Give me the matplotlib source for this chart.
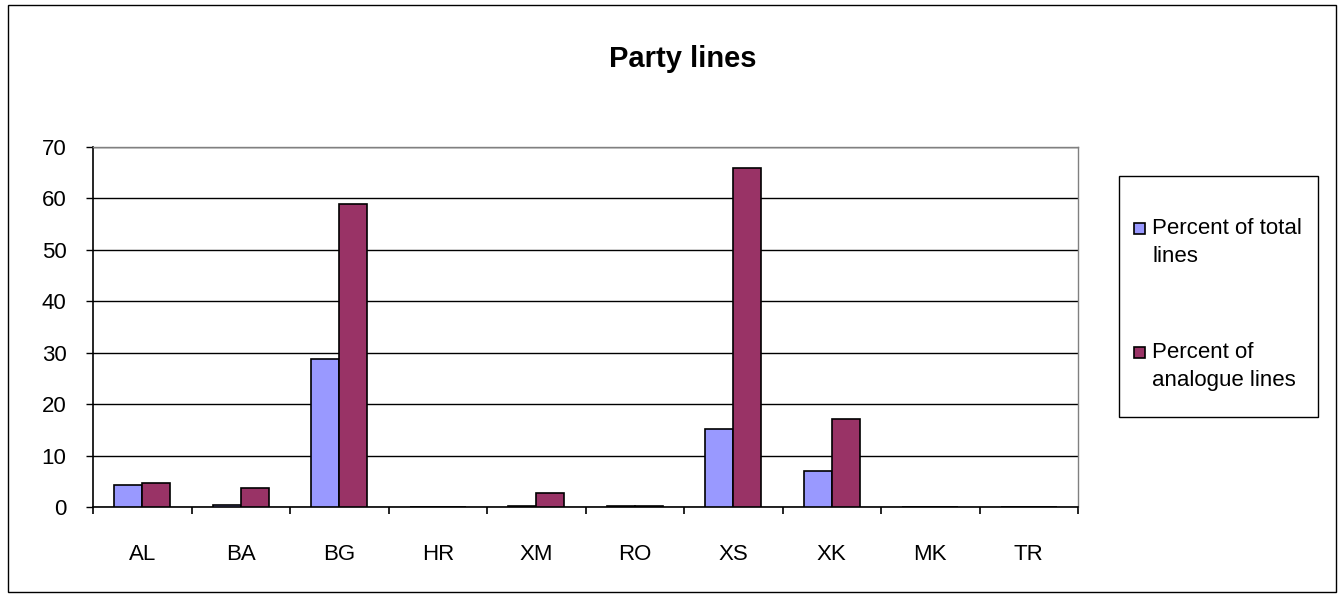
import matplotlib
matplotlib.use("Agg")
import matplotlib.pyplot as plt
from matplotlib.patches import Rectangle
import numpy as np

plt.rcParams['font.family'] = ['Liberation Sans', 'DejaVu Sans']

categories = ["AL", "BA", "BG", "HR", "XM", "RO", "XS", "XK", "MK", "TR"]
pct_total = [4.3, 0.45, 28.8, 0.0, 0.1, 0.1, 15.1, 7.0, 0.0, 0.0]
pct_analogue = [4.7, 3.6, 59.0, 0.0, 2.8, 0.1, 66.0, 17.1, 0.0, 0.0]
series_names = ["Percent of total\nlines", "Percent of\nanalogue lines"]
y_ticks = [0, 10, 20, 30, 40, 50, 60, 70]

W, H = 1339, 597
fig = plt.figure(figsize=(W / 100, H / 100), dpi=100)

# outer chart frame
fig.patches.append(Rectangle((8 / W, 5 / H), 1328 / W, 587 / H,
                             transform=fig.transFigure, fill=False,
                             edgecolor='black', linewidth=1.0))

ax = fig.add_axes([93 / W, 1 - 507 / H, (1078 - 93) / W, (507 - 147) / H])

x = np.arange(len(categories))
bw = 0.286
ax.bar(x - bw / 2, pct_total, bw, color='#9999FF', edgecolor='black',
       linewidth=1.2, label=series_names[0], zorder=3)
ax.bar(x + bw / 2, pct_analogue, bw, color='#993366', edgecolor='black',
       linewidth=1.2, label=series_names[1], zorder=3)

ax.set_xlim(-0.5, len(categories) - 0.5)
ax.set_ylim(0, 70)
ax.set_yticks(y_ticks)
ax.yaxis.grid(True, color='black', linewidth=1.0, zorder=0)
ax.set_axisbelow(True)

ax.set_xticks(x)
ax.set_xticklabels(categories, fontsize=16)
ax.tick_params(axis='x', length=0, pad=27)
ax.set_xticks(np.arange(len(categories) + 1) - 0.5, minor=True)
ax.tick_params(axis='x', which='minor', length=5, width=1.2, color='black')
ax.tick_params(axis='y', labelsize=16, length=5, width=1.0, pad=14)

for side in ['top', 'right']:
    ax.spines[side].set_color('#808080')
    ax.spines[side].set_linewidth(1.0)
for side in ['left', 'bottom']:
    ax.spines[side].set_color('black')
    ax.spines[side].set_linewidth(1.2)

fig.text(683 / W, 1 - 59 / H, "Party lines", ha='center', va='center',
         fontsize=21, fontweight='bold')

# legend box
lx0, ly0, lx1, ly1 = 1119, 176, 1318, 417
fig.patches.append(Rectangle((lx0 / W, 1 - ly1 / H), (lx1 - lx0) / W, (ly1 - ly0) / H,
                             transform=fig.transFigure, fill=False,
                             edgecolor='black', linewidth=1.0))
colors = ['#9999FF', '#993366']
for i, (name, c) in enumerate(zip(series_names, colors)):
    ty = [228, 352][i]
    fig.patches.append(Rectangle((1134 / W, 1 - (ty + 6) / H), 11 / W, 11 / H,
                                 transform=fig.transFigure, facecolor=c,
                                 edgecolor='black', linewidth=1.2))
    fig.text(1152 / W, 1 - (ty - 10) / H, name, ha='left', va='top',
             fontsize=16, linespacing=1.42)

fig.savefig("out.png", dpi=100)
